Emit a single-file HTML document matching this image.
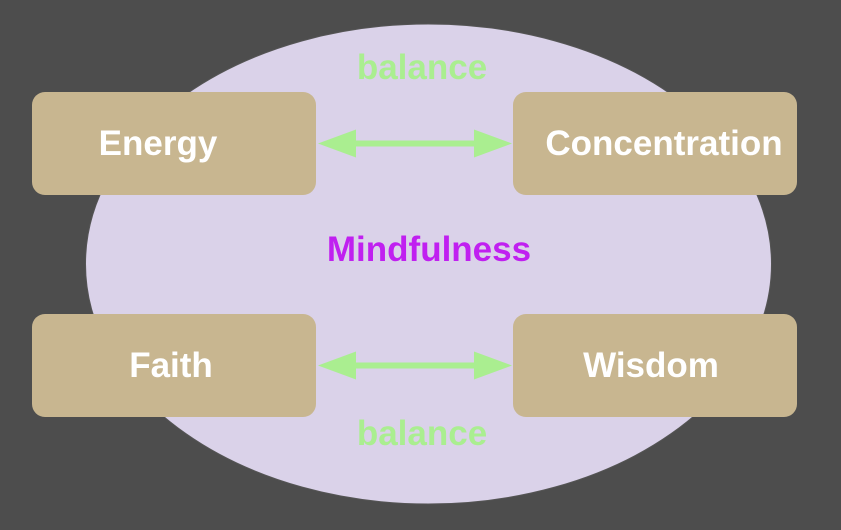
<!DOCTYPE html>
<html><head><style>
body{margin:0;background:#4d4d4d;}
svg{display:block}
text{font-family:"Liberation Sans",sans-serif;font-weight:bold;font-size:35px;text-anchor:middle}
</style></head><body>
<svg width="841" height="530" viewBox="0 0 841 530">
<rect width="841" height="530" fill="#4d4d4d"/>
<ellipse cx="428.5" cy="264" rx="343" ry="240" fill="#dad2e9" stroke="#555" stroke-width="1"/>
<rect x="32" y="92" width="284" height="103" rx="13" fill="#c8b690"/>
<rect x="513" y="92" width="284" height="103" rx="13" fill="#c8b690"/>
<rect x="32" y="314" width="284" height="103" rx="13" fill="#c8b690"/>
<rect x="513" y="314" width="284" height="103" rx="13" fill="#c8b690"/>
<g fill="#aaee90">
<polygon points="318,143.5 356,129.5 356,140.5 474,140.5 474,129.5 512,143.5 474,157.5 474,146.5 356,146.5 356,157.5"/>
<polygon points="318,365.5 356,351.5 356,362.5 474,362.5 474,351.5 512,365.5 474,379.5 474,368.5 356,368.5 356,379.5"/>
</g>
<text x="422" y="79" fill="#aaee90">balance</text>
<text x="422" y="445" fill="#aaee90">balance</text>
<text x="429" y="261" fill="#c020f0">Mindfulness</text>
<text x="158" y="155" fill="#fff">Energy</text>
<text x="664" y="155" fill="#fff">Concentration</text>
<text x="171" y="377" fill="#fff">Faith</text>
<text x="651" y="377" fill="#fff">Wisdom</text>
</svg>
</body></html>
